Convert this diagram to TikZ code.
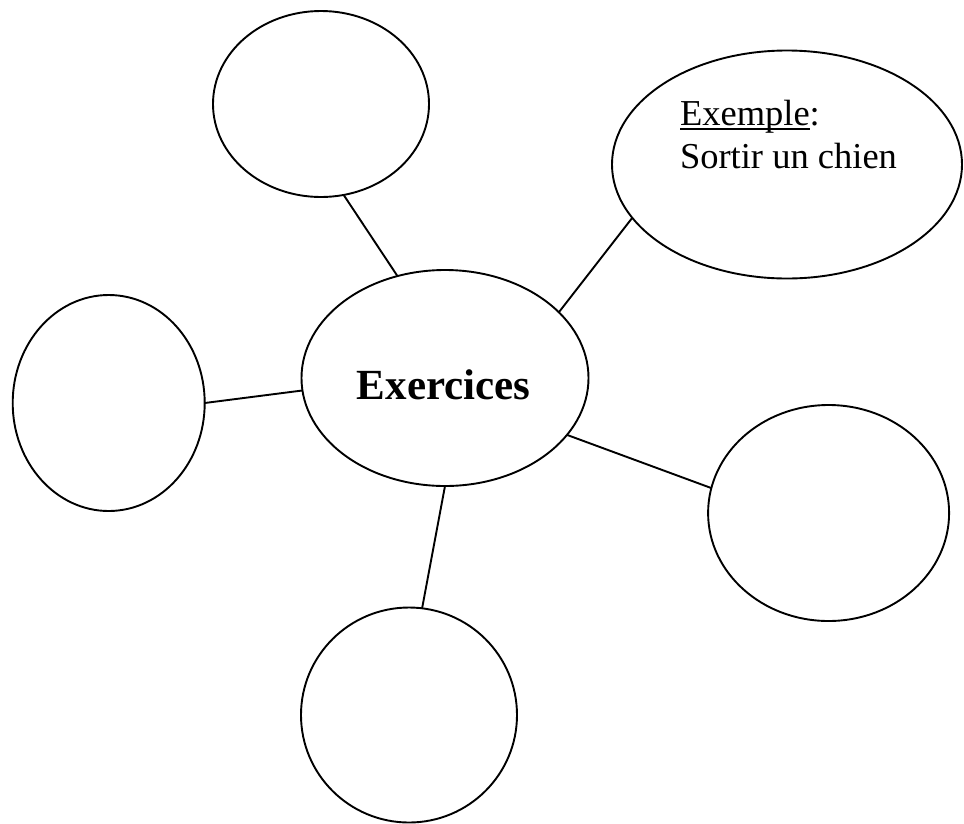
\documentclass[tikz,border=0pt]{standalone}
\usepackage{fontspec}
\setmainfont{Liberation Serif}
\usetikzlibrary{shapes.geometric}
\begin{document}
\begin{tikzpicture}[x=1pt,y=-1pt,
  bubble/.style={draw=black,line width=1.9pt,ellipse,inner sep=0pt,outer sep=0pt},
  link/.style={draw=black,line width=1.9pt},
  txt/.style={inner sep=0pt,outer sep=0pt,font=\fontsize{36.5}{43}\selectfont}]
\useasboundingbox (0,0) rectangle (964,823);
\node[bubble,minimum width=216pt,minimum height=186pt] (top) at (321,104) {};
\node[bubble,minimum width=350pt,minimum height=228pt] (tr) at (787,164.5) {};
\node[bubble,minimum width=192pt,minimum height=216pt] (left) at (108.7,403) {};
\node[bubble,minimum width=287pt,minimum height=216pt] (ctr) at (445,378) {};
\node[bubble,minimum width=241pt,minimum height=216pt] (right) at (828.6,513) {};
\node[bubble,minimum width=216pt,minimum height=215pt] (bot) at (409,715) {};
\node[inner sep=0pt,anchor=base,font=\fontsize{43}{50}\selectfont\bfseries] (ctrtxt) at (443.7,399) {Exercices};
\node[txt,anchor=base west] (exw) at (680,125) {Exemple};
\node[txt,anchor=base west] (colon) at (exw.base east) {:};
\node[txt,anchor=base west] (sortir) at (680,168.3) {Sortir un chien};
\draw[line width=1.9pt] ([yshift=-4pt]exw.base west) -- ([yshift=-4pt]exw.base east);
\draw[link] (top.-76.1) -- (ctr.115.5);
\draw[link] (tr.199.7) -- (ctr.30);
\draw[link] (left.0.8) -- (ctr.185.6);
\draw[link] (ctr.-25.6) -- (right.168.5);
\draw[link] (ctr.-90) -- (bot.83.8);
\end{tikzpicture}
\end{document}
